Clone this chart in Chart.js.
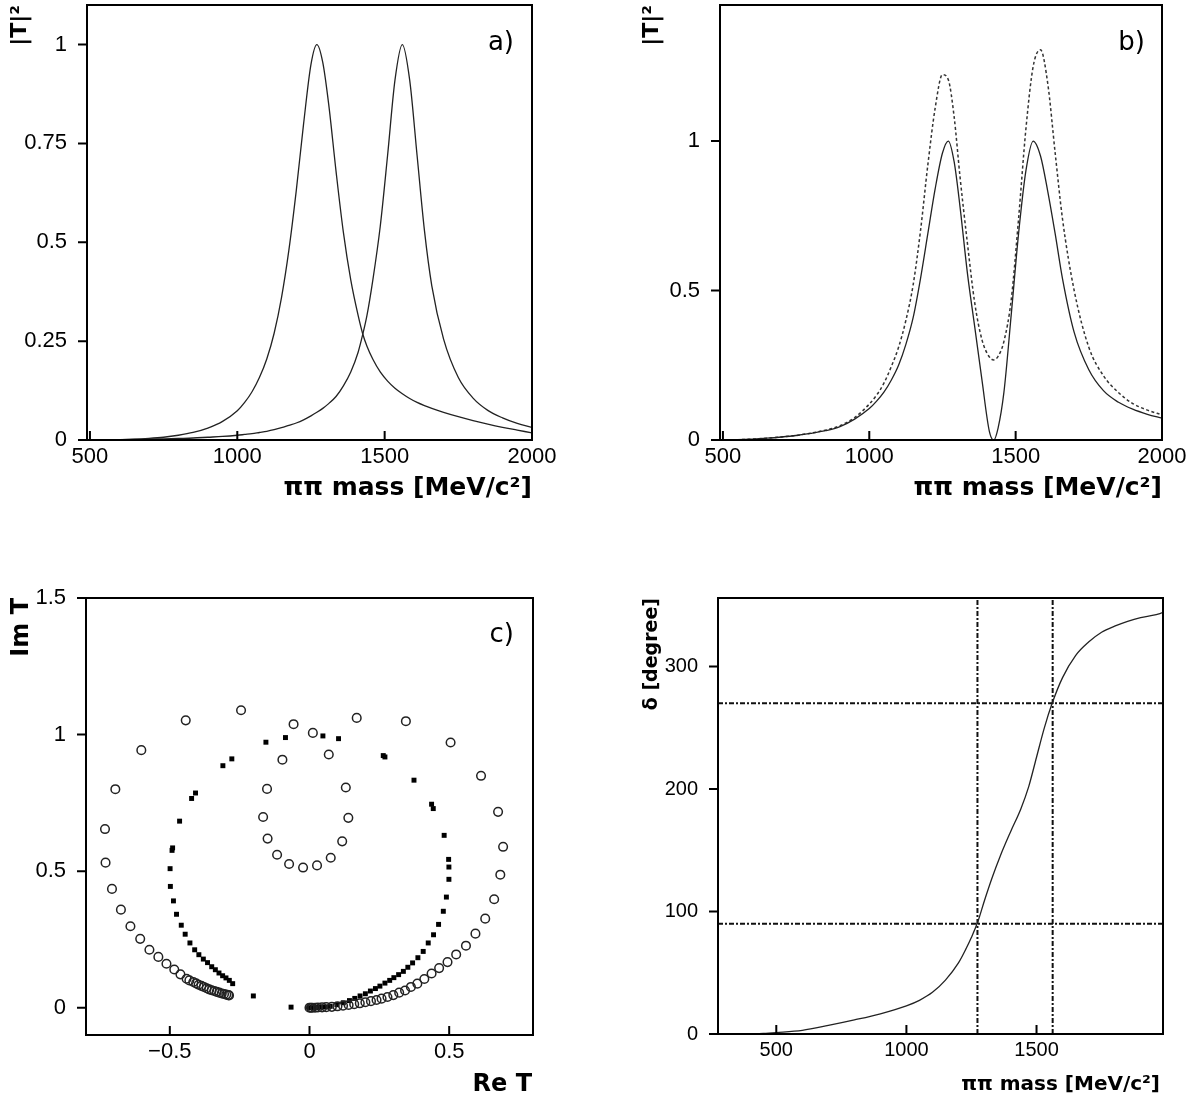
<!DOCTYPE html>
<html>
<head>
<meta charset="utf-8">
<script src="https://cdn.jsdelivr.net/npm/chart.js@4.4.1/dist/chart.umd.min.js"></script>
<style>
  html, body { margin: 0; padding: 0; background: #fff; }
  #pagina { position: relative; width: 1204px; height: 1102px; overflow: hidden; background: #fff; }
  canvas { position: absolute; }
</style>
</head>
<body>
<div id="pagina">
  <canvas id="panel-a" width="602" height="551" style="left:0;top:0"></canvas>
  <canvas id="panel-b" width="602" height="551" style="left:602px;top:0"></canvas>
  <canvas id="panel-c" width="602" height="551" style="left:0;top:551px"></canvas>
  <canvas id="panel-d" width="602" height="551" style="left:602px;top:551px"></canvas>
</div>
<script>
// masa pi-pi [MeV/c2], rejilla comun de los paneles a) y b)
const MASA = [490, 550, 600, 650, 700, 750, 800, 850, 900, 950,
    1000, 1025, 1050, 1075, 1100, 1125, 1150, 1175, 1200, 1225,
    1250, 1270, 1290, 1310, 1335, 1360, 1385, 1410, 1425, 1440,
    1460, 1485, 1510, 1535, 1560, 1585, 1610, 1635, 1660, 1700,
    1750, 1800, 1850, 1900, 1950, 2000];

// a) |T|^2 de cada resonancia por separado
const T2_RES1 = [0, 0.0003, 0.001, 0.002, 0.004, 0.007, 0.012, 0.019, 0.03, 0.047,
    0.074, 0.095, 0.122, 0.158, 0.205, 0.27, 0.36, 0.48, 0.63, 0.8,
    0.95, 1.0, 0.955, 0.85, 0.68, 0.525, 0.405, 0.315, 0.27, 0.237,
    0.204, 0.172, 0.149, 0.131, 0.117, 0.105, 0.095, 0.087, 0.08, 0.07,
    0.059, 0.049, 0.04, 0.032, 0.025, 0.018];
const T2_RES2 = [0, 0.0005, 0.001, 0.0015, 0.002, 0.003, 0.004, 0.005, 0.007, 0.009,
    0.012, 0.014, 0.016, 0.019, 0.022, 0.026, 0.031, 0.037, 0.043, 0.051,
    0.061, 0.07, 0.08, 0.092, 0.11, 0.137, 0.172, 0.222, 0.265, 0.315,
    0.405, 0.54, 0.72, 0.91, 1.0, 0.91, 0.72, 0.53, 0.39, 0.255,
    0.158, 0.106, 0.075, 0.056, 0.042, 0.032];

// b) suma de las dos resonancias (linea llena y punteada)
const T2_SUMA = [0, 0.001, 0.003, 0.006, 0.01, 0.015, 0.022, 0.031, 0.045, 0.07,
    0.105, 0.13, 0.16, 0.2, 0.25, 0.32, 0.41, 0.54, 0.69, 0.84,
    0.96, 1.0, 0.93, 0.78, 0.56, 0.38, 0.2, 0.03, 0.0, 0.04,
    0.16, 0.42, 0.69, 0.9, 1.0, 0.95, 0.83, 0.69, 0.54, 0.36,
    0.235, 0.165, 0.127, 0.103, 0.086, 0.073];
const T2_SUMA_PUNT = [0, 0.001, 0.003, 0.006, 0.01, 0.015, 0.023, 0.033, 0.048, 0.075,
    0.12, 0.15, 0.19, 0.245, 0.31, 0.4, 0.52, 0.7, 0.92, 1.11,
    1.222, 1.205, 1.08, 0.88, 0.66, 0.46, 0.335, 0.278, 0.268, 0.28,
    0.33, 0.47, 0.74, 1.04, 1.25, 1.305, 1.19, 0.96, 0.74, 0.5,
    0.31, 0.215, 0.16, 0.122, 0.1, 0.084];

// c) diagrama de Argand: circulos abiertos y cuadrados llenos
const ARGAND_ABIERTOS_RE = [-0.245, -0.443, -0.602, -0.695, -0.732, -0.73, -0.707, -0.675, -0.641, -0.606,
    -0.573, -0.541, -0.512, -0.484, -0.462, -0.44, -0.43, -0.416, -0.406, -0.397,
    -0.387, -0.378, -0.368, -0.359, -0.35, -0.341, -0.332, -0.323, -0.314, -0.306,
    -0.298, -0.291, -0.288,
    -0.057, 0.169, 0.345, 0.505, 0.614, 0.675, 0.693, 0.683, 0.661, 0.629,
    0.594, 0.56, 0.525, 0.494, 0.464, 0.437, 0.411, 0.386, 0.363, 0.342,
    0.321, 0.3, 0.279, 0.258, 0.24, 0.22, 0.2, 0.18, 0.16, 0.14,
    0.12, 0.1, 0.08, 0.06, 0.045, 0.03, 0.02, 0.01, 0.005, 0,
    0.012, 0.069, 0.13, 0.139, 0.117, 0.076, 0.027, -0.023, -0.073, -0.116,
    -0.15, -0.166, -0.152, -0.097];
const ARGAND_ABIERTOS_IM = [1.089, 1.052, 0.943, 0.8, 0.654, 0.531, 0.435, 0.359, 0.298, 0.252,
    0.212, 0.186, 0.161, 0.14, 0.122, 0.106, 0.1, 0.094, 0.089, 0.084,
    0.08, 0.076, 0.071, 0.067, 0.064, 0.061, 0.058, 0.055, 0.052, 0.05,
    0.048, 0.046, 0.045,
    1.038, 1.061, 1.049, 0.971, 0.849, 0.717, 0.589, 0.487, 0.397, 0.326,
    0.271, 0.227, 0.195, 0.167, 0.145, 0.125, 0.105, 0.088, 0.076, 0.063,
    0.055, 0.046, 0.039, 0.033, 0.028, 0.024, 0.02, 0.016, 0.013, 0.01,
    0.007, 0.005, 0.003, 0.002, 0.001, 0.0005, 0, 0, 0, 0,
    1.006, 0.927, 0.806, 0.695, 0.609, 0.549, 0.521, 0.513, 0.526, 0.56,
    0.619, 0.698, 0.801, 0.908];
const ARGAND_LLENOS_RE = [-0.156, -0.086, -0.31, -0.278, -0.422, -0.408, -0.465, -0.49, -0.492, -0.499,
    -0.498, -0.487, -0.476, -0.459, -0.445, -0.428, -0.411, -0.396, -0.38, -0.365,
    -0.35, -0.337, -0.324, -0.311, -0.299, -0.287, -0.275, -0.201, -0.066,
    0.048, 0.104, 0.264, 0.27, 0.374, 0.437, 0.443, 0.482, 0.498, 0.499,
    0.499, 0.49, 0.479, 0.462, 0.444, 0.425, 0.407, 0.388, 0.369, 0.352,
    0.336, 0.319, 0.302, 0.287, 0.27, 0.252, 0.236, 0.218, 0.2, 0.181,
    0.162, 0.143, 0.121, 0.098, 0.074, 0.06, 0.045, 0.03, 0.02, 0.01, 0];
const ARGAND_LLENOS_IM = [0.972, 0.989, 0.886, 0.911, 0.766, 0.786, 0.683, 0.585, 0.576, 0.509,
    0.444, 0.391, 0.342, 0.302, 0.269, 0.237, 0.212, 0.194, 0.178, 0.165,
    0.15, 0.139, 0.127, 0.117, 0.109, 0.1, 0.088, 0.043, 0.002,
    0.995, 0.985, 0.923, 0.918, 0.833, 0.745, 0.729, 0.631, 0.543, 0.515,
    0.47, 0.405, 0.353, 0.305, 0.267, 0.237, 0.206, 0.183, 0.164, 0.148,
    0.133, 0.121, 0.11, 0.1, 0.09, 0.079, 0.07, 0.061, 0.051, 0.043,
    0.034, 0.026, 0.018, 0.011, 0.005, 0.003, 0.002, 0.001, 0, 0, 0];

// d) fase delta [grados]
const FASE_MASA = [276, 350, 400, 450, 500, 600, 700, 800, 900, 1000,
    1050, 1100, 1150, 1200, 1230, 1250, 1275, 1300, 1330, 1360,
    1400, 1440, 1470, 1500, 1530, 1560, 1600, 1650, 1700, 1750,
    1800, 1850, 1900, 1950, 1986];
const FASE_GRADOS = [0, 0, 0.2, 0.5, 1.2, 3, 7, 11.5, 16.5, 23,
    27.5, 34, 44, 58, 70, 79, 92, 109, 128, 145,
    165, 184, 202, 226, 250, 270, 291, 309, 320, 328,
    333, 337, 340, 342, 344];
const GUIAS_GRADOS = [90, 270];
const GUIAS_MASA = [1273, 1562];

// marcas de los ejes
const TICKS_MASA_AB = [500, 1000, 1500, 2000];
const TICKS_A_Y = [0, 0.25, 0.5, 0.75, 1];
const TICKS_B_Y = [0, 0.5, 1];
const TICKS_C_X = [-0.5, 0, 0.5];
const TICKS_C_Y = [0, 0.5, 1, 1.5];
const TICKS_D_X = [500, 1000, 1500];
const TICKS_D_Y = [0, 100, 200, 300];

const FUENTE = '"DejaVu Sans", sans-serif';
const FUENTE_TICKS = '"Liberation Sans", Arial, sans-serif';
Chart.defaults.font.family = FUENTE_TICKS;
Chart.defaults.color = '#000';

const puntos = (xs, ys) => xs.map((x, i) => ({ x, y: ys[i] }));
const etiqueta = v => String(v).replace('-', '\u2212');

const ejeX = (min, max, ticks, alto, tam = 22) => ({
    type: 'linear', min, max,
    afterBuildTicks: s => { s.ticks = ticks.map(v => ({ value: v })); },
    afterFit: s => { s.height = alto; s.paddingLeft = 0; s.paddingRight = 0; },
    grid: { display: false },
    border: { display: false },
    ticks: { padding: -4, autoSkip: false, maxRotation: 0, color: '#000', font: { size: tam }, callback: etiqueta }
});

const ejeY = (min, max, ticks, ancho, tam = 22) => ({
    type: 'linear', min, max,
    afterBuildTicks: s => { s.ticks = ticks.map(v => ({ value: v })); },
    afterFit: s => { s.width = ancho; s.paddingTop = 0; s.paddingBottom = 0; },
    grid: { display: false },
    border: { display: false },
    ticks: { padding: 12, autoSkip: false, color: '#000', font: { size: tam }, callback: etiqueta }
});

// marco, marcas (x hacia dentro, y hacia fuera) y textos
const marco = {
    id: 'marco',
    afterDraw(chart, args, o) {
        const { ctx, chartArea: a, scales: { x, y } } = chart;
        ctx.save();
        ctx.strokeStyle = '#000';
        ctx.lineWidth = 2;
        ctx.strokeRect(a.left, a.top, a.right - a.left, a.bottom - a.top);
        ctx.beginPath();
        x.ticks.forEach(t => {
            const px = x.getPixelForValue(t.value);
            ctx.moveTo(px, a.bottom); ctx.lineTo(px, a.bottom - 9);
        });
        y.ticks.forEach(t => {
            const py = y.getPixelForValue(t.value);
            ctx.moveTo(a.left, py); ctx.lineTo(a.left - 9, py);
        });
        ctx.stroke();

        ctx.fillStyle = '#000';
        ctx.textBaseline = 'middle';
        ctx.font = `${o.fuenteX} ${FUENTE}`;
        ctx.textAlign = 'right';
        ctx.fillText(o.tituloX, o.posX[0], o.posX[1]);

        ctx.save();
        ctx.translate(o.posY[0], o.posY[1]);
        ctx.rotate(-Math.PI / 2);
        ctx.font = `${o.fuenteY} ${FUENTE}`;
        ctx.textAlign = 'right';
        ctx.fillText(o.tituloY, 0, 0);
        ctx.restore();

        if (o.rotulo) {
            ctx.font = `26px ${FUENTE}`;
            ctx.textAlign = 'right';
            ctx.fillText(o.rotulo, o.posRotulo[0], o.posRotulo[1]);
        }
        ctx.restore();
    }
};

const linea = (data, extra = {}) => ({
    data, borderColor: '#222', borderWidth: 1.3, pointRadius: 0,
    cubicInterpolationMode: 'monotone', fill: false, ...extra
});

const crearPanel = (id, tipo, datasets, escalas, padding, textos) => new Chart(document.getElementById(id), {
    type: tipo,
    data: { datasets },
    options: {
        responsive: false,
        animation: false,
        devicePixelRatio: 1,
        layout: { padding },
        plugins: { legend: { display: false }, tooltip: { enabled: false }, marco: textos },
        scales: escalas
    },
    plugins: [marco]
});

const TITULO_MASA = '\u03c0\u03c0 mass [MeV/c\u00b2]';

crearPanel('panel-a', 'line',
    [linea(puntos(MASA, T2_RES1)), linea(puntos(MASA, T2_RES2))],
    { x: ejeX(490, 2000, TICKS_MASA_AB, 111), y: ejeY(0, 1.1, TICKS_A_Y, 87) },
    { top: 5, right: 70, left: 0, bottom: 0 },
    { tituloX: TITULO_MASA, posX: [532, 488], fuenteX: 'bold 25px',
      tituloY: '|T|\u00b2', posY: [20, 5], fuenteY: 'bold 22px',
      rotulo: 'a)', posRotulo: [514, 43] });

crearPanel('panel-b', 'line',
    [linea(puntos(MASA, T2_SUMA)),
     linea(puntos(MASA, T2_SUMA_PUNT), { borderDash: [3, 2.5], borderWidth: 1.5, borderColor: '#333' })],
    { x: ejeX(490, 2000, TICKS_MASA_AB, 111), y: ejeY(0, 1.455, TICKS_B_Y, 118) },
    { top: 5, right: 42, left: 0, bottom: 0 },
    { tituloX: TITULO_MASA, posX: [560, 488], fuenteX: 'bold 25px',
      tituloY: '|T|\u00b2', posY: [50, 5], fuenteY: 'bold 22px',
      rotulo: 'b)', posRotulo: [543, 43] });

crearPanel('panel-c', 'scatter',
    [{ data: puntos(ARGAND_ABIERTOS_RE, ARGAND_ABIERTOS_IM), pointStyle: 'circle', pointRadius: 4.3,
       borderColor: '#222', borderWidth: 1.5, backgroundColor: 'rgba(0,0,0,0)' },
     { data: puntos(ARGAND_LLENOS_RE, ARGAND_LLENOS_IM), pointStyle: 'rect', pointRadius: 3.5,
       borderColor: '#000', borderWidth: 0, backgroundColor: '#000' }],
    { x: ejeX(-0.8, 0.8, TICKS_C_X, 67), y: ejeY(-0.1, 1.5, TICKS_C_Y, 86) },
    { top: 47, right: 69, left: 0, bottom: 0 },
    { tituloX: 'Re T', posX: [532, 534], fuenteX: 'bold 24px',
      tituloY: 'Im T', posY: [22, 47], fuenteY: 'bold 24px',
      rotulo: 'c)', posRotulo: [514, 84] });

const estiloGuia = { borderDash: [5, 2, 2, 2], borderWidth: 2, borderColor: '#111', cubicInterpolationMode: 'default' };
const guiasH = GUIAS_GRADOS.map(g => linea([{ x: 276, y: g }, { x: 1986, y: g }], estiloGuia));
const guiasV = GUIAS_MASA.map(m => linea([{ x: m, y: 0 }, { x: m, y: 356 }], estiloGuia));

crearPanel('panel-d', 'line',
    [linea(puntos(FASE_MASA, FASE_GRADOS)), ...guiasH, ...guiasV],
    { x: ejeX(276, 1986, TICKS_D_X, 68, 20), y: ejeY(0, 356, TICKS_D_Y, 116, 20) },
    { top: 47, right: 41, left: 0, bottom: 0 },
    { tituloX: TITULO_MASA, posX: [558, 534], fuenteX: 'bold 20px',
      tituloY: '\u03b4 [degree]', posY: [50, 47], fuenteY: 'bold 19px' });
</script>
</body>
</html>
